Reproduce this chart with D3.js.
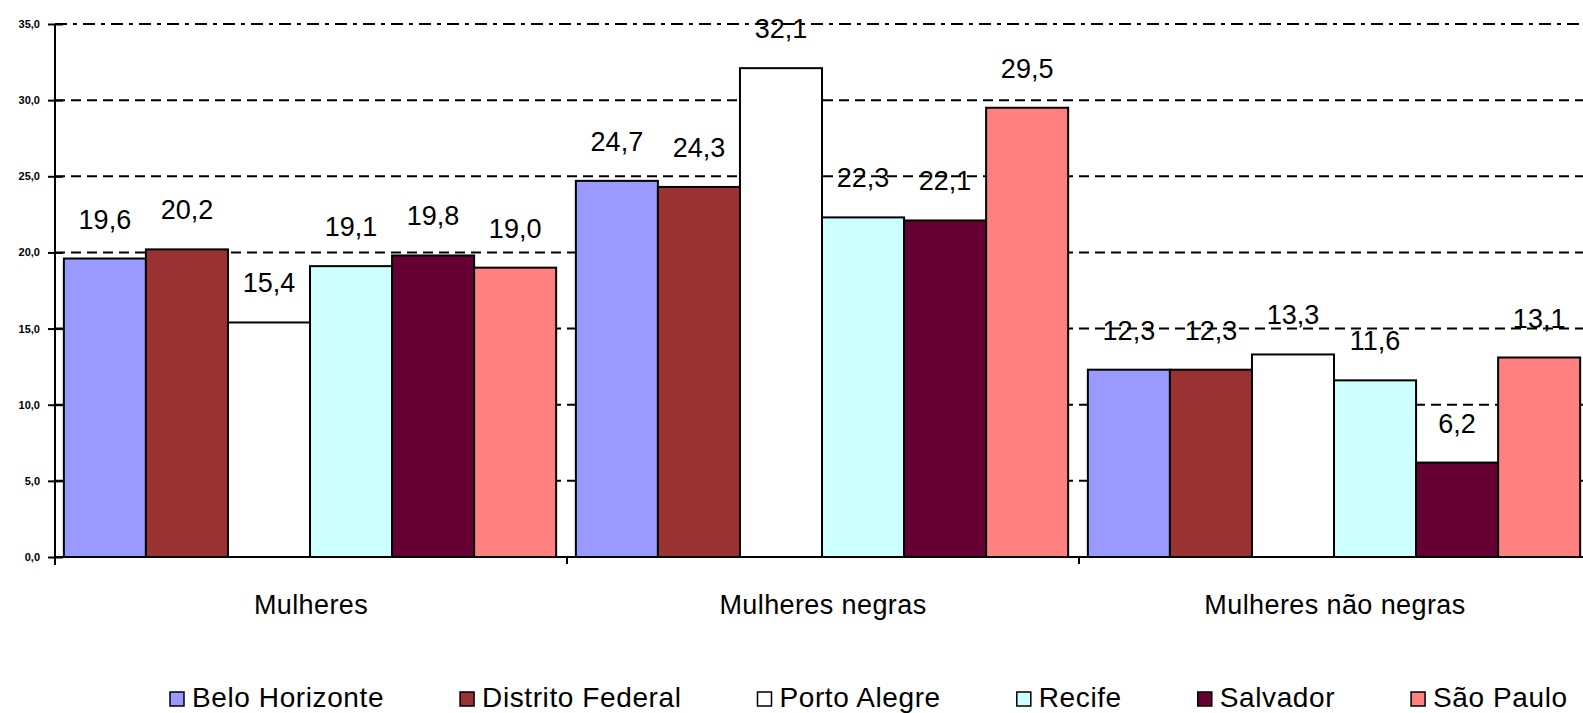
<!DOCTYPE html>
<html>
<head>
<meta charset="utf-8">
<script src="https://cdn.jsdelivr.net/npm/d3@7"></script>
<style>
  html, body { margin: 0; padding: 0; background: #fff; }
  svg { display: block; font-family: "Liberation Sans", Arial, sans-serif; }
</style>
</head>
<body>
<div id="chart"></div>
<script>
// Grouped bars: three groups of women, one bar per metropolitan region.

const GROUPS = ['Mulheres', 'Mulheres negras', 'Mulheres não negras'];
const CITIES = ['Belo Horizonte', 'Distrito Federal', 'Porto Alegre', 'Recife', 'Salvador', 'São Paulo'];
const COLORS = ['#9999FF', '#993333', '#FFFFFF', '#CCFFFF', '#660033', '#FF8080'];

const MULHERES        = [19.6, 20.2, 15.4, 19.1, 19.8, 19.0];
const MULHERES_NEGRAS = [24.7, 24.3, 32.1, 22.3, 22.1, 29.5];
const MULHERES_NAO    = [12.3, 12.3, 13.3, 11.6, 6.2, 13.1];
const SERIES = [MULHERES, MULHERES_NEGRAS, MULHERES_NAO];

const Y_TICKS = [0, 5, 10, 15, 20, 25, 30, 35];

const W = 1583, H = 713;
const fmt = v => d3.format('.1f')(v).replace('.', ',');

const svg = d3.select('#chart').append('svg').attr('width', W).attr('height', H);

const x0 = d3.scaleBand().domain(GROUPS).range([55, 55 + 3 * 512]);
const x1 = d3.scaleBand().domain(CITIES).range([0, x0.bandwidth()]).paddingOuter(0.12).align(0.45);
const y  = d3.scaleLinear().domain([0, 35]).range([557, 24]);
const color = d3.scaleOrdinal().domain(CITIES).range(COLORS);

// gridlines (behind bars)
svg.append('g').selectAll('line').data(Y_TICKS.filter(t => t > 0)).enter().append('line')
  .attr('x1', 55).attr('x2', W)
  .attr('y1', d => y(d)).attr('y2', d => y(d))
  .attr('stroke', '#000').attr('stroke-width', 2)
  .attr('stroke-dasharray', d => d === 35 ? '12,6,4,6' : '10,6');

// bars
const rows = GROUPS.flatMap((g, gi) => CITIES.map((c, ci) => ({ g, c, v: SERIES[gi][ci] })));
svg.append('g').selectAll('rect').data(rows).enter().append('rect')
  .attr('x', d => x0(d.g) + x1(d.c))
  .attr('y', d => y(d.v))
  .attr('width', x1.bandwidth())
  .attr('height', d => y(0) - y(d.v))
  .attr('fill', d => color(d.c))
  .attr('stroke', '#000').attr('stroke-width', 2);

// y axis
const yAxis = svg.append('g').attr('transform', 'translate(55,0)')
  .call(d3.axisLeft(y).tickValues(Y_TICKS).tickSize(7).tickPadding(8).tickFormat(fmt));
yAxis.select('.domain').attr('stroke', '#000').attr('stroke-width', 2).attr('d', 'M0,24V565');
yAxis.selectAll('.tick line').attr('x2', 8).attr('x1', -7).attr('stroke-width', 2);
yAxis.selectAll('.tick text')
  .style('font-family', '"Liberation Sans", Arial, sans-serif')
  .style('font-size', '11px').style('font-weight', 'bold').attr('fill', '#000');

// x axis
const xAxis = svg.append('g').attr('transform', 'translate(0,557)');
xAxis.append('line').attr('x1', 55).attr('x2', W).attr('stroke', '#000').attr('stroke-width', 2);
xAxis.selectAll('line.sep').data(GROUPS.slice(1)).enter().append('line')
  .attr('x1', d => x0(d)).attr('x2', d => x0(d)).attr('y1', 0).attr('y2', 7)
  .attr('stroke', '#000').attr('stroke-width', 2);
xAxis.selectAll('text').data(GROUPS).enter().append('text')
  .attr('x', d => x0(d) + x0.bandwidth() / 2).attr('y', 57)
  .attr('text-anchor', 'middle').style('font-size', '27px').style('letter-spacing', '0.4px')
  .attr('fill', '#000')
  .text(d => d);

// value labels
svg.append('g').selectAll('text').data(rows).enter().append('text')
  .attr('x', d => x0(d.g) + x1(d.c) + x1.bandwidth() / 2)
  .attr('y', d => y(d.v) - 30)
  .attr('text-anchor', 'middle').style('font-size', '27px').attr('fill', '#000')
  .text(d => fmt(d.v));

// legend
const legend = svg.append('g').attr('transform', 'translate(170,707)');
let lx = 0;
CITIES.forEach((c, i) => {
  const item = legend.append('g').attr('transform', `translate(${lx},0)`);
  item.append('rect').attr('x', 0).attr('y', -15).attr('width', 14).attr('height', 14)
    .attr('fill', COLORS[i]).attr('stroke', '#000').attr('stroke-width', 1.5);
  const t = item.append('text').attr('x', 22).attr('y', 0)
    .style('font-size', '28px').style('letter-spacing', '0.6px')
    .attr('fill', '#000').text(c);
  lx += 22 + t.node().getComputedTextLength() + 76;
});
</script>
</body>
</html>
